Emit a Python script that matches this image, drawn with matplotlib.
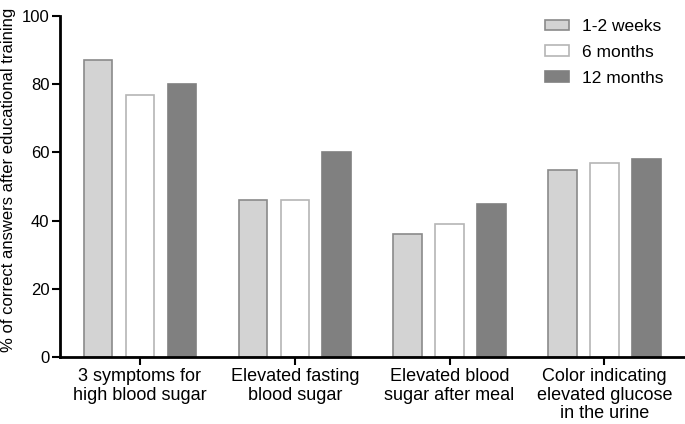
import matplotlib
matplotlib.use("Agg")
import matplotlib.pyplot as plt
import numpy as np

plt.rcParams['font.family'] = ['Liberation Sans', 'DejaVu Sans']

categories = ["3 symptoms for\nhigh blood sugar", "Elevated fasting\nblood sugar",
              "Elevated blood\nsugar after meal", "Color indicating\nelevated glucose\nin the urine"]
series_names = ["1-2 weeks", "6 months", "12 months"]
weeks_1_2 = [87, 46, 36, 55]
months_6 = [77, 46, 39, 57]
months_12 = [80, 60, 45, 58]
yticks = [0, 20, 40, 60, 80, 100]

fig = plt.figure(figsize=(6.85, 4.24), dpi=100)
ax = fig.add_axes([0.0876, 0.158, 0.9124, 0.804])

x = np.arange(len(categories))
w = 0.184
off = 0.271
styles = [("#d3d3d3", "#8a8a8a"), ("#ffffff", "#b5b5b5"), ("#808080", "#808080")]
for i, (vals, name) in enumerate(zip([weeks_1_2, months_6, months_12], series_names)):
    fc, ec = styles[i]
    ax.bar(x + (i - 1) * off, vals, width=w, color=fc, edgecolor=ec, linewidth=1.2, label=name)

ax.set_xlim(-0.516, 3.52)
ax.set_ylim(0, 100)
ax.set_yticks(yticks)
ax.set_yticklabels([str(t) for t in yticks], fontsize=12)
ax.set_xticks(x)
ax.set_xticklabels(categories, fontsize=13, linespacing=1.12)
ax.set_ylabel("% of correct answers after educational training", fontsize=12)
ax.yaxis.set_label_coords(-0.07, 0.52)
for s in ["top", "right"]:
    ax.spines[s].set_visible(False)
for s in ["left", "bottom"]:
    ax.spines[s].set_linewidth(2)
ax.tick_params(axis='both', width=1.5, length=6, color='black')
ax.tick_params(axis='y', pad=1.5)
ax.tick_params(axis='x', pad=2)

ax.legend(loc='upper left', bbox_to_anchor=(545 / 685, 1 - 19 / 424), bbox_transform=fig.transFigure,
          frameon=False, fontsize=12.5, borderpad=0, borderaxespad=0,
          handlelength=1.38, handleheight=0.55, handletextpad=0.75, labelspacing=0.62)

fig.savefig("out.png", dpi=100)
